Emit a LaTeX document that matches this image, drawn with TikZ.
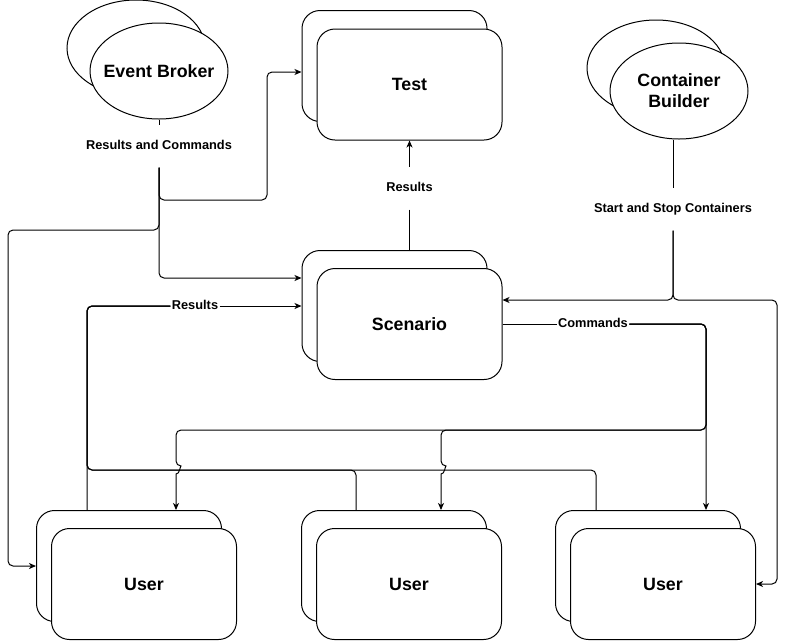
\documentclass[tikz,border=0pt]{standalone}
\usepackage{fontspec}
\setmainfont{Liberation Sans}
\usetikzlibrary{arrows.meta,shapes.geometric}
\begin{document}
\begin{tikzpicture}[x=1pt, y=-1pt, line width=1pt,
    box/.style={draw, fill=white, rounded corners=18pt, minimum width=185pt, minimum height=111pt, font=\fontsize{17.8}{21}\selectfont\bfseries},
    blob/.style={draw, fill=white, ellipse, inner xsep=-10pt, inner ysep=0pt, minimum width=138pt, minimum height=96pt, align=center, font=\fontsize{17.8}{21}\selectfont\bfseries},
    lbl/.style={fill=white, inner xsep=1pt, inner ysep=15pt, text height=9.5pt, text depth=2.5pt, font=\fontsize{12.8}{15}\selectfont\bfseries},
    lblon/.style={lbl, inner ysep=1pt},
    conn/.style={rounded corners=5pt},
    arr/.style={conn, -{Stealth[length=7pt, width=6pt, inset=2pt]}}]
          \fill[white] (0,0) rectangle (786,641);
          \useasboundingbox (0,0) rectangle (786,641);

          \node[blob] (ebB) at (136,48) {};
          \node[blob] (eb) at (159,71) {Event Broker};
          \node[blob] (cbB) at (656,68) {};
          \node[blob] (cb) at (679,91) {Container\\Builder};

          \node[box] (tB) at (394.5,66) {};
          \node[box] (t) at (409.5,84.5) {Test};
          \node[box] (scB) at (394.5,306) {};
          \node[box] (sc) at (409.5,324) {Scenario};
          \foreach \x [count=\i] in {129,394,648} {
            \node[box] (uB\i) at (\x,566) {};
            \node[box] (u\i) at (\x+15,584) {User};
          }

          \node[lbl] (rc) at (159,146) {Results and Commands};
          \node[lbl] (ssc) at (673,209) {Start and Stop Containers};
          \node[lbl] (res) at (409.5,188) {Results};
          \node[lblon] (resB) at (195,306) {Results};
          \node[lblon] (cmd) at (593,324) {Commands};

          \draw (eb) -- (rc);
          \draw[arr] (rc.south) |- (267,200) |- (tB.west |- 0,72);
          \draw[arr] (rc.south) |- (8,230) |- (uB1.west);
          \draw[arr] (rc.south) |- (scB.west |- 0,278);

          \draw (res) -- (scB.north -| res);
          \draw[arr] (res) -- (t);

          \draw (cb.south -| ssc) -- (ssc);
          \draw[arr] (ssc.south) |- (sc.east |- 0,300);
          \draw[arr] (ssc.south) |- (777,300) |- (u3.east);

          \draw (sc) -- (cmd);
          \draw[arr] (cmd.east) -| (uB3.north -| 706,0);
          \draw[arr] (cmd.east) -| (706,430) -| (441,466) [sharp corners] .. controls (445,466) and (445,474) .. (441,474) -- (uB2.north -| 441,0);
          \draw[arr] (cmd.east) -| (706,430) -| (176,466) [sharp corners] .. controls (180,466) and (180,474) .. (176,474) -- (uB1.north -| 176,0);

          \draw[arr] (resB) -- (scB);
          \draw[conn] (uB1.north -| 87,0) |- (resB);
          \draw[conn] (uB2.north -| 356,0) |- (87,470) |- (resB);
          \draw[conn] (uB3.north -| 596,0) |- (87,470) |- (resB);
        \end{tikzpicture}
\end{document}
